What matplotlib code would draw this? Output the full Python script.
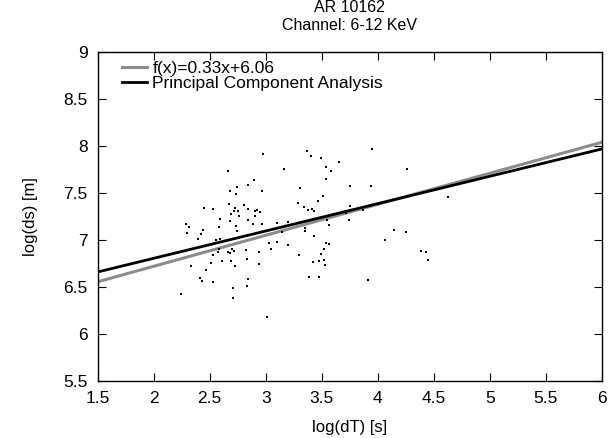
import matplotlib.pyplot as plt
import numpy as np

plt.rcParams['font.family'] = ['Liberation Sans', 'DejaVu Sans']

# log(dT) [s], log(ds) [m]
log_dt = [2.974, 3.369, 3.405, 2.664, 3.161, 2.899, 2.840, 2.744, 3.304, 2.682,
          2.733, 2.967, 3.467, 3.286, 2.670, 2.807, 3.345, 3.380, 3.416, 3.429,
          2.450, 2.530, 2.727, 2.840, 2.688, 2.715, 2.756, 2.762, 2.905, 2.923,
          2.950, 2.908, 2.590, 2.679, 2.840, 2.887, 2.967, 3.104, 3.197, 2.289,
          2.316, 2.438, 2.423, 2.584, 2.738, 2.747, 2.298, 3.143, 3.348, 3.348,
          3.434, 2.399, 2.593, 2.557, 3.951, 3.491, 3.654, 3.536, 3.583, 4.264,
          3.536, 3.750, 3.937, 3.509, 4.624, 3.755, 3.732, 3.714, 3.866, 3.545,
          3.743, 3.562, 4.145, 4.255, 4.065, 3.033, 3.104, 3.197, 3.048, 2.581,
          2.700, 2.720, 2.667, 2.682, 2.825, 2.941, 2.572, 2.528, 3.300, 2.836,
          2.613, 2.688, 3.420, 3.476, 2.515, 2.938, 2.334, 2.724, 2.465, 3.387,
          3.476, 2.412, 2.430, 2.530, 2.840, 2.834, 2.706, 2.245, 2.711, 3.012,
          3.536, 3.568, 3.523, 3.491, 3.520, 3.529, 4.386, 4.433, 4.451, 3.916]
log_ds = [7.912, 7.944, 7.897, 7.731, 7.755, 7.641, 7.588, 7.561, 7.556, 7.521,
          7.493, 7.524, 7.415, 7.394, 7.386, 7.376, 7.351, 7.322, 7.327, 7.312,
          7.344, 7.330, 7.340, 7.333, 7.280, 7.309, 7.312, 7.252, 7.312, 7.322,
          7.295, 7.255, 7.220, 7.205, 7.213, 7.173, 7.173, 7.184, 7.191, 7.170,
          7.135, 7.103, 7.061, 7.141, 7.146, 7.093, 7.071, 7.085, 7.124, 7.101,
          7.039, 7.011, 7.014, 6.997, 7.971, 7.876, 7.827, 7.777, 7.737, 7.755,
          7.652, 7.571, 7.578, 7.468, 7.461, 7.365, 7.309, 7.284, 7.316, 7.216,
          7.210, 7.163, 7.110, 7.088, 7.005, 6.965, 6.979, 6.944, 6.904, 6.907,
          6.904, 6.880, 6.872, 6.865, 6.894, 6.876, 6.869, 6.844, 6.840, 6.795,
          6.780, 6.777, 6.766, 6.780, 6.755, 6.741, 6.720, 6.723, 6.681, 6.606,
          6.606, 6.599, 6.564, 6.553, 6.585, 6.507, 6.489, 6.422, 6.386, 6.178,
          6.968, 6.961, 6.907, 6.853, 6.790, 6.734, 6.886, 6.872, 6.787, 6.571]

fit_coef = [0.33, 6.06]      # slope, intercept of f(x)
pca_coef = [0.291, 6.223]    # slope, intercept of PCA line

xticks = [1.5, 2, 2.5, 3, 3.5, 4, 4.5, 5, 5.5, 6]
yticks = [5.5, 6, 6.5, 7, 7.5, 8, 8.5, 9]

fig = plt.figure(figsize=(6.11, 4.38), dpi=100)
ax = fig.add_axes([0.1596, 0.1301, 0.8257, 0.7512])

xx = np.array([1.5, 6])
ax.plot(xx, fit_coef[0] * xx + fit_coef[1], color='#8c8c8c', lw=2.2,
        label='f(x)=0.33x+6.06')
ax.plot(xx, pca_coef[0] * xx + pca_coef[1], color='black', lw=2,
        label='Principal Component Analysis')
ax.scatter(log_dt, log_ds, s=3, marker='s', color='black', linewidths=0, zorder=3)

ax.set_xlim(1.5, 6)
ax.set_ylim(5.5, 9)
ax.set_xticks(xticks)
ax.set_yticks(yticks)
ax.set_xticklabels([f'{t:g}' for t in xticks])
ax.set_yticklabels([f'{t:g}' for t in yticks])
ax.tick_params(direction='in', top=True, right=True, length=6, width=0.8,
               labelsize=12.5, pad=7)
for s in ax.spines.values():
    s.set_linewidth(1)

ax.set_title('AR 10162\nChannel: 6-12 KeV', fontsize=11.5, linespacing=1.2, pad=16)
ax.set_xlabel('log(dT) [s]', fontsize=12, labelpad=10)
ax.set_ylabel('log(ds) [m]', fontsize=12, labelpad=18)

ax.legend(loc='upper left', frameon=False, fontsize=12.5, handlelength=1.45,
          handletextpad=0.3, labelspacing=0.0, borderaxespad=0.0,
          bbox_to_anchor=(0.035, 0.994))

fig.savefig('out.png', dpi=100)
